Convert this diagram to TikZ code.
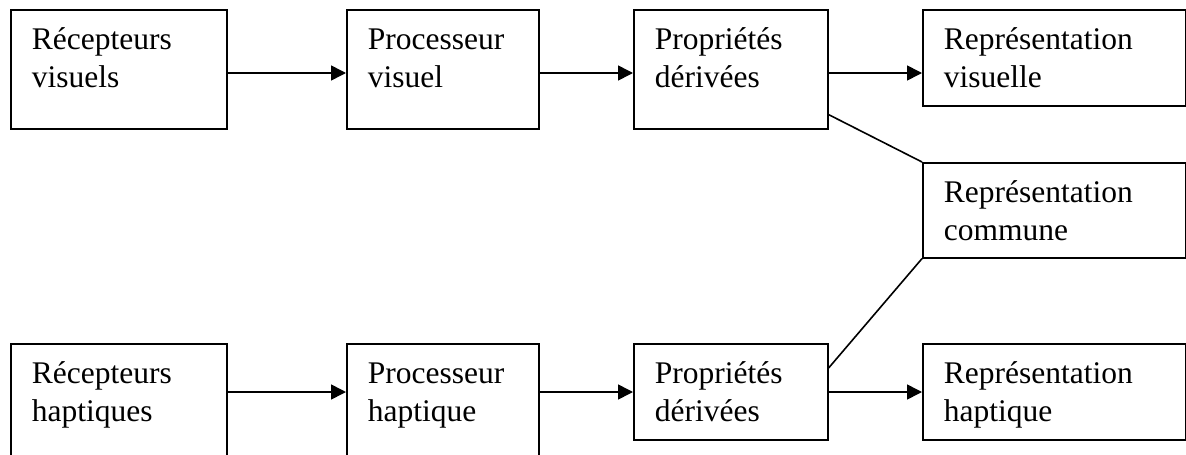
\documentclass[tikz,border=0pt]{standalone}
\usepackage{fontspec}
\setmainfont{Liberation Serif}
\usepackage{tikz}
\usetikzlibrary{arrows.meta}

\begin{document}
\begin{tikzpicture}[x=1pt, y=1pt,
every edge/.style = {draw, -{Triangle[length=15pt,width=15pt]}, line width=1.6pt, black},
         B/.style = {draw, line width=1.6pt, anchor=north west, align=left,
                     inner xsep=21pt, inner ysep=0pt, text height=40pt,
                     font=\fontsize{31.5}{38}\selectfont},
        B1/.style = {B, text width=174pt},
        B2/.style = {B, text width=150pt},
        B3/.style = {B, text width=152pt},
        B4/.style = {B, text width=221pt}
                    ]
\useasboundingbox (0,0) rectangle (1186,-455);

% voie visuelle
\node (rv)   [B1, text depth=79pt] at (10,-9)   {Récepteurs\\visuels};
\node (pv)   [B2, text depth=79pt] at (346,-9)  {Processeur\\visuel};
\node (pdv)  [B3, text depth=79pt] at (633,-9)  {Propriétés\\dérivées};
\node (repv) [B4, text depth=56pt] at (922,-9)  {Représentation\\visuelle};
% representation commune
\node (repc) [B4, text depth=55pt] at (922,-162) {Représentation\\commune};
% voie haptique
\node (rh)   [B1, text depth=90pt] at (10,-343)  {Récepteurs\\haptiques};
\node (ph)   [B2, text depth=90pt] at (346,-343) {Processeur\\haptique};
\node (pdh)  [B3, text depth=56pt] at (633,-343) {Propriétés\\dérivées};
\node (reph) [B4, text depth=56pt] at (922,-343) {Représentation\\haptique};

\draw   ([yshift=-64pt]rv.north east)  edge ([yshift=-64pt]pv.north west)
        ([yshift=-64pt]pv.north east)  edge ([yshift=-64pt]pdv.north west)
        ([yshift=-64pt]pdv.north east) edge ([yshift=-64pt]repv.north west)
        ([yshift=-49pt]rh.north east)  edge ([yshift=-49pt]ph.north west)
        ([yshift=-49pt]ph.north east)  edge ([yshift=-49pt]pdh.north west)
        ([yshift=-49pt]pdh.north east) edge ([yshift=-49pt]reph.north west);
\draw[line width=1.6pt] ([yshift=15pt]pdv.south east) -- (repc.north west)
                        ([yshift=-25pt]pdh.north east) -- (repc.south west);
\end{tikzpicture}
\end{document}
